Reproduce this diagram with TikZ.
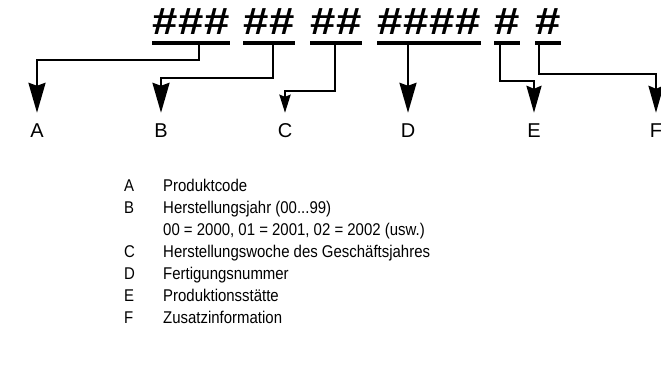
\documentclass[tikz,border=0pt]{standalone}
\usepackage{fontspec}
\setmainfont{Liberation Sans}
\newfontfamily\legfont[FakeStretch=0.88]{Liberation Sans}
\usetikzlibrary{arrows.meta}
\newcommand\hc{\makebox[26pt]{\scalebox{1.2}[1]{\bfseries\#}}}
\tikzset{
  hashgrp/.style={inner xsep=0pt, inner ysep=0pt, text height=23pt, text depth=8pt,
    anchor=south west, font=\fontsize{38}{40}\selectfont},
  uline/.style={line width=3.5pt},
  conn/.style={line width=2.5pt},
  bighead/.style={-{Stealth[length=30pt,width=17pt,inset=3pt]}},
  smallhead/.style={-{Stealth[length=18pt,width=11pt,inset=2pt]}},
  midhead/.style={-{Stealth[length=27pt,width=15pt,inset=3pt]}},
  fieldlbl/.style={inner sep=0pt, text height=15pt, text depth=0pt, anchor=base,
    font=\fontsize{20}{24}\selectfont},
  leglbl/.style={inner sep=0pt, anchor=base west, font=\legfont\fontsize{17}{20}\selectfont},
}
\begin{document}
\begin{tikzpicture}[x=1pt,y=-1pt]
\useasboundingbox (0,0) rectangle (661,375);

% code groups with their underlines
\node[hashgrp] (g1) at (152,43) {\hc\hc\hc};
\node[hashgrp] (g2) at (243,43) {\hc\hc};
\node[hashgrp] (g3) at (310,43) {\hc\hc};
\node[hashgrp] (g4) at (377,43) {\hc\hc\hc\hc};
\node[hashgrp] (g5) at (494,43) {\hc};
\node[hashgrp] (g6) at (535,43) {\hc};
\foreach \g in {g1,g2,g3,g4,g5,g6}
  \draw[uline] (\g.south west) -- (\g.south east);

% field letters (cap tops at y = 122)
\node[fieldlbl] (A) at (37,137) {A};
\node[fieldlbl] (B) at (161,137) {B};
\node[fieldlbl] (C) at (285,137) {C};
\node[fieldlbl] (D) at (408,137) {D};
\node[fieldlbl] (E) at (534,137) {E};
\node[fieldlbl] (F) at (656,137) {F};

% connectors from each group to its letter, tips 9pt above the letters
\draw[conn,bighead] ([xshift=47pt]g1.south west) -- ++(0,17) -| ([yshift=9pt]A.north);
\draw[conn,bighead] ([xshift=30pt]g2.south west) -- ++(0,35) -| ([yshift=9pt]B.north);
\draw[conn,smallhead] ([xshift=25pt]g3.south west) -- ++(0,48) -| ([yshift=9pt]C.north);
\draw[conn,bighead] ([xshift=31pt]g4.south west) -- ([yshift=9pt]D.north);
\draw[conn,midhead] ([xshift=6pt]g5.south west) -- ++(0,38) -| ([yshift=9pt]E.north);
\draw[conn,midhead] ([xshift=4pt]g6.south west) -- ++(0,31) -| ([yshift=9pt]F.north);

% legend
\node[leglbl] (lA) at (124,191) {A};
\node[leglbl] (tA) at (163,191) {Produktcode};
\node[leglbl] (lB) at (124,213) {B};
\node[leglbl] (tB) at (163,213) {Herstellungsjahr (00...99)};
\node[leglbl] (tB2) at (163,235) {00 = 2000, 01 = 2001, 02 = 2002 (usw.)};
\node[leglbl] (lC) at (124,257) {C};
\node[leglbl] (tC) at (163,257) {Herstellungswoche des Geschäftsjahres};
\node[leglbl] (lD) at (124,279) {D};
\node[leglbl] (tD) at (163,279) {Fertigungsnummer};
\node[leglbl] (lE) at (124,301) {E};
\node[leglbl] (tE) at (163,301) {Produktionsstätte};
\node[leglbl] (lF) at (124,323) {F};
\node[leglbl] (tF) at (163,323) {Zusatzinformation};
\end{tikzpicture}
\end{document}
